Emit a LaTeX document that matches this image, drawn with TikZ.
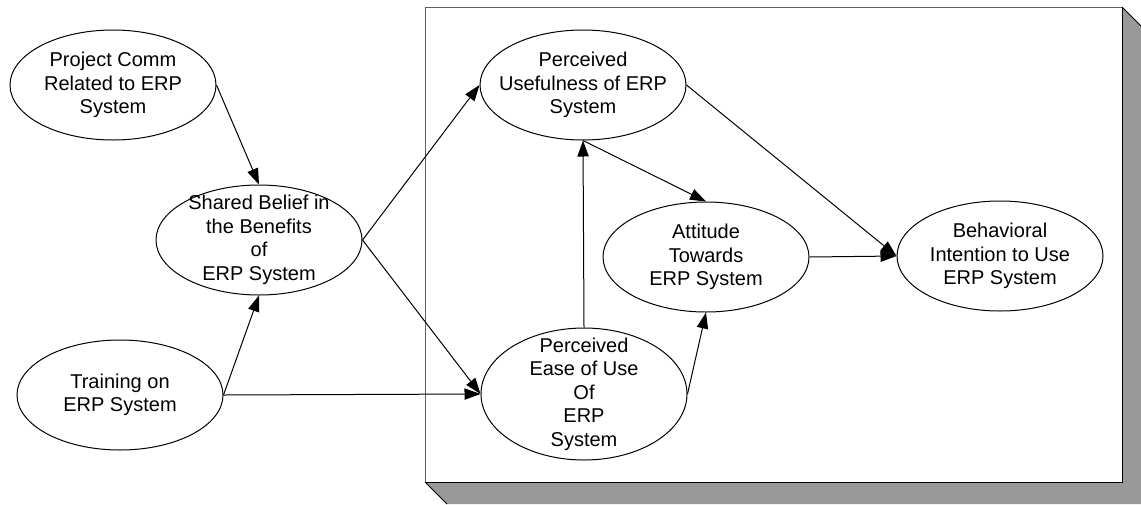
\documentclass[tikz,border=0pt]{standalone}
\usepackage{fontspec}
\setmainfont{Liberation Sans}
\usetikzlibrary{arrows.meta,shapes.geometric}
\definecolor{tamShadow}{RGB}{153,153,153}
\definecolor{tamEdge}{RGB}{96,96,96}
\newcommand{\tamfont}{\fontsize{15pt}{17.6pt}\selectfont}

\begin{document}
\begin{tikzpicture}[x=0.75pt, y=-0.75pt,
    construct/.style={ellipse, draw=black, fill=white, line width=0.75pt,
                      minimum width=154.5pt, minimum height=82.5pt, inner sep=0pt},
    tall/.style={minimum height=99pt},
    caption/.style={align=center, font=\tamfont, inner sep=0pt},
    path/.style={-{Triangle[length=12pt, width=8.5pt]}, line width=0.75pt}
  ]
  \useasboundingbox (0,0) rectangle (1141,504);

  % the box with its shadow
  \fill[tamShadow] (425,482) -- (1122,482) -- (1122,7) -- (1141,26)
                   -- (1141,504) -- (447,504) -- cycle;
  \fill[white] (425,7) rectangle (1122,482);
  \draw[line width=0.75pt] (425,482) -- (447,504);
  \draw[line width=0.75pt] (1122,7) -- (1141,26);
  \draw[line width=0.75pt, tamEdge] (425,482) -- (425,7) -- (1122,7);
  \draw[line width=0.75pt] (425,482) -- (1122,482) -- (1122,7);

  \node[construct, label={[caption]center:Project Comm\\Related to ERP\\System}] (pc) at (113,85) {};
  \node[construct, label={[caption]center:Shared Belief in\\the Benefits\\of\\ERP System}] (sb) at (259,240) {};
  \node[construct, label={[caption]center:Training on\\ERP System}] (tr) at (120,395) {};
  \node[construct, label={[caption]center:Perceived\\Usefulness of ERP\\System}] (pu) at (583,85) {};
  \node[construct, tall, label={[caption]center:Perceived\\Ease of Use\\Of\\ERP\\System}] (pe) at (584,394) {};
  \node[construct, label={[caption]center:Attitude\\Towards\\ERP System}] (att) at (706,257) {};
  \node[construct, label={[caption]center:Behavioral\\Intention to Use\\ERP System}] (bi) at (1000,256) {};

  \draw[path] (pc.east) -- (sb.north);
  \draw[path] (tr.east) -- (sb.south);
  \draw[path] (tr.east) -- (pe.west);
  \draw[path] (sb.east) -- (pu.west);
  \draw[path] (sb.east) -- (pe.west);
  \draw[path] (pe.north) -- (pu.south);
  \draw[path] (pu.south) -- (att.north);
  \draw[path] (pe.east) -- (att.south);
  \draw[path] (pu.east) -- (bi.west);
  \draw[path] (att.east) -- (bi.west);
\end{tikzpicture}
\end{document}
